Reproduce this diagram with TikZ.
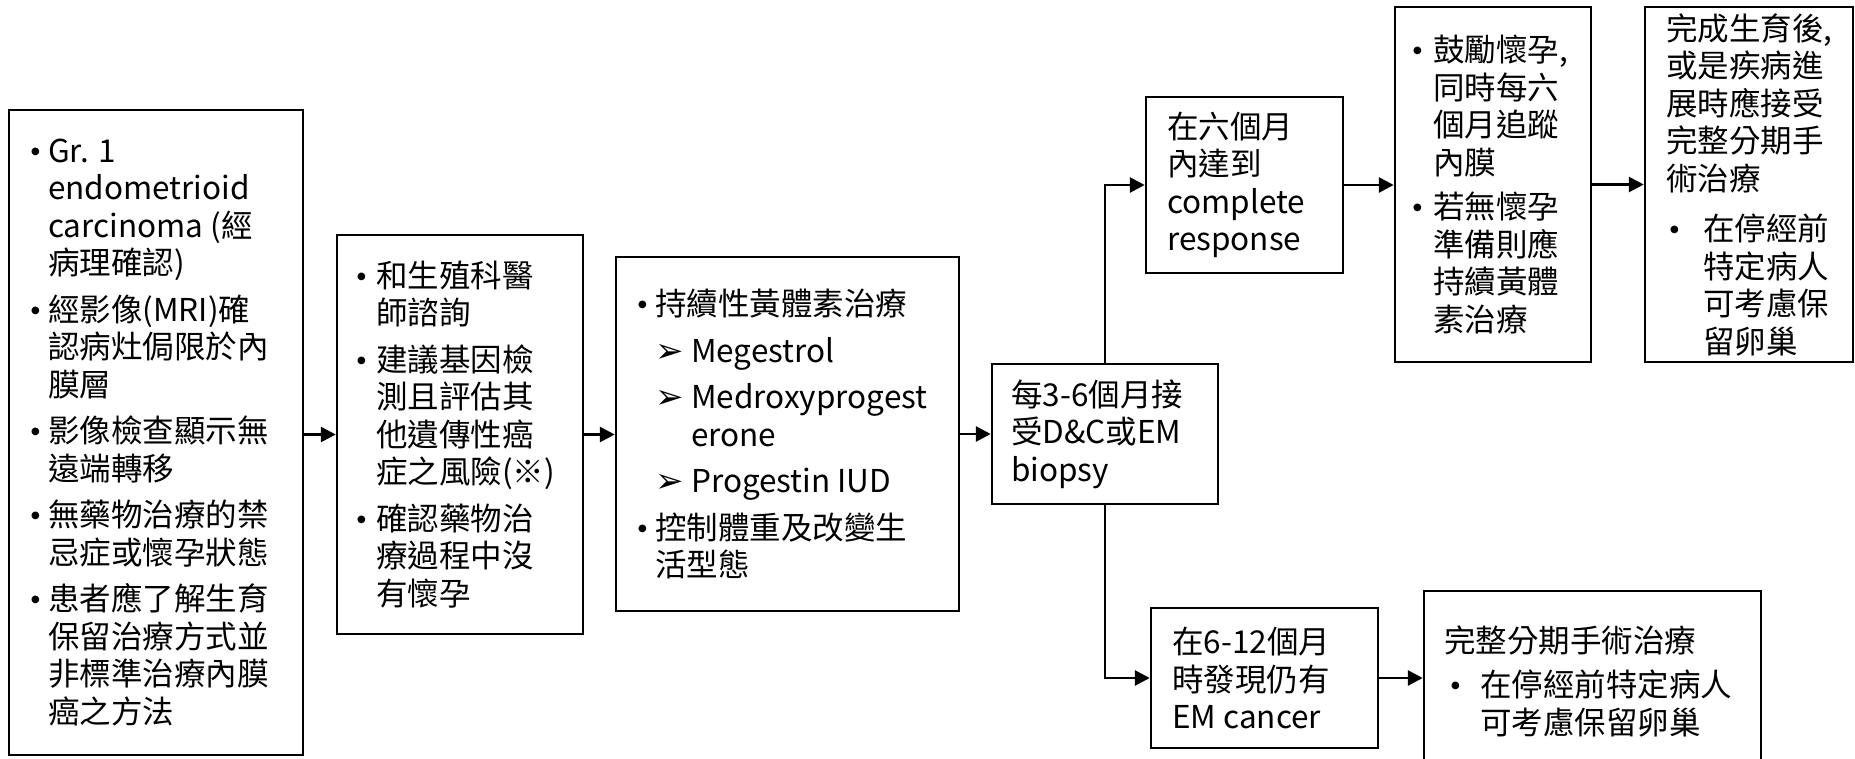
\documentclass[tikz,border=0pt]{standalone}
\usepackage{fontspec}
\setmainfont{Noto Sans CJK TC}
\newfontfamily\djv{DejaVu Sans}
\usetikzlibrary{arrows.meta}
\newcommand\mybul[1][17pt]{\makebox[#1][l]{\raisebox{8pt}{\djv\fontsize{10}{10}\selectfont ●}}}
\newcommand\arrmark{\makebox[36pt][l]{\raisebox{0pt}{\djv\fontsize{34}{34}\selectfont ➢}}}
\newcommand\myind[1]{\hspace*{#1}}
\begin{document}
\begin{tikzpicture}[x=1pt,y=-1pt,
  bx/.style={draw, line width=2.5pt, inner sep=0pt},
  txt/.style={inner sep=0pt, align=left, anchor=west, font=\fontsize{31.5}{37.5}\selectfont},
  arr/.style={line width=2.8pt, -{Triangle[length=15pt,width=15pt]}}]
\useasboundingbox (0,0) rectangle (1855,758);
\clip (0,0) rectangle (1855,758);
\fill[white] (0,0) rectangle (1855,758);
% boxes
\node[bx, minimum width=294pt, minimum height=645pt] (b1) at (156,432.5) {};
\node[bx, minimum width=246pt, minimum height=399pt] (b2) at (460,434.5) {};
\node[bx, minimum width=343pt, minimum height=354pt] (b3) at (787.5,434) {};
\node[bx, minimum width=226pt, minimum height=140pt] (b4) at (1105,434) {};
\node[bx, minimum width=197pt, minimum height=176pt] (b5) at (1244.5,185) {};
\node[bx, minimum width=196pt, minimum height=355pt] (b6) at (1493,184.5) {};
\node[bx, minimum width=208pt, minimum height=355pt] (b7) at (1749,184.5) {};
\node[bx, minimum width=227pt, minimum height=140pt] (b8) at (1264.5,678) {};
\node[bx, minimum width=337pt, minimum height=180pt] (b9) at (1592.5,681) {};
% texts
\node[txt] (t1) at (31,432.5) {%
\mybul Gr. 1\\
\myind{17pt}endometrioid\\
\myind{17pt}carcinoma (經\\
\myind{17pt}病理確認)\\[9pt]
\mybul 經影像(MRI)確\\
\myind{17pt}認病灶侷限於內\\
\myind{17pt}膜層\\[9pt]
\mybul 影像檢查顯示無\\
\myind{17pt}遠端轉移\\[9pt]
\mybul 無藥物治療的禁\\
\myind{17pt}忌症或懷孕狀態\\[9pt]
\mybul 患者應了解生育\\
\myind{17pt}保留治療方式並\\
\myind{17pt}非標準治療內膜\\
\myind{17pt}癌之方法};
\node[txt] (t2) at (357,434.5) {%
\mybul[19pt]和生殖科醫\\
\myind{19pt}師諮詢\\[9pt]
\mybul[19pt]建議基因檢\\
\myind{19pt}測且評估其\\
\myind{19pt}他遺傳性癌\\
\myind{19pt}症之風險(※)\\[9pt]
\mybul[19pt]確認藥物治\\
\myind{19pt}療過程中沒\\
\myind{19pt}有懷孕};
\node[txt] (t3) at (638,434) {%
\mybul 持續性黃體素治療\\[9pt]
\myind{17pt}\arrmark Megestrol\\[9pt]
\myind{17pt}\arrmark Medroxyprogest\\
\myind{53pt}erone\\[9pt]
\myind{17pt}\arrmark Progestin IUD\\[9pt]
\mybul 控制體重及改變生\\
\myind{17pt}活型態};
\node[txt] (t4) at (1011,434) {每3-6個月接\\受D\&C或EM\\biopsy};
\node[txt] (t5) at (1167,185) {在六個月\\內達到\\complete\\response};
\node[txt] (t6) at (1413,184.5) {%
\mybul[20pt]鼓勵懷孕,\\
\myind{20pt}同時每六\\
\myind{20pt}個月追蹤\\
\myind{20pt}內膜\\[7pt]
\mybul[20pt]若無懷孕\\
\myind{20pt}準備則應\\
\myind{20pt}持續黃體\\
\myind{20pt}素治療};
\node[txt] (t7) at (1666,184.5) {%
完成生育後,\\
或是疾病進\\
展時應接受\\
完整分期手\\
術治療\\[13pt]
\myind{4pt}\mybul[33pt]在停經前\\
\myind{37pt}特定病人\\
\myind{37pt}可考慮保\\
\myind{37pt}留卵巢};
\node[txt] (t8) at (1172,678) {在6-12個月\\時發現仍有\\EM cancer};
\node[txt] (t9) at (1444,681) {%
完整分期手術治療\\[7pt]
\myind{7pt}\mybul[29pt]在停經前特定病人\\
\myind{36pt}可考慮保留卵巢};
% connectors
\draw[arr] (b1.east |- b2.west) -- (b2.west);
\draw[arr] (b2.east) -- (b2.east -| b3.west);
\draw[arr] (b3.east) -- (b3.east -| b4.west);
\draw[arr] (b4.north) |- (b5.west);
\draw[arr] (b4.south) |- (b8.west);
\draw[arr] (b5.east) -- (b5.east -| b6.west);
\draw[arr] (b6.east) -- (b7.west);
\draw[arr] (b8.east) -- (b8.east -| b9.west);
\end{tikzpicture}
\end{document}
